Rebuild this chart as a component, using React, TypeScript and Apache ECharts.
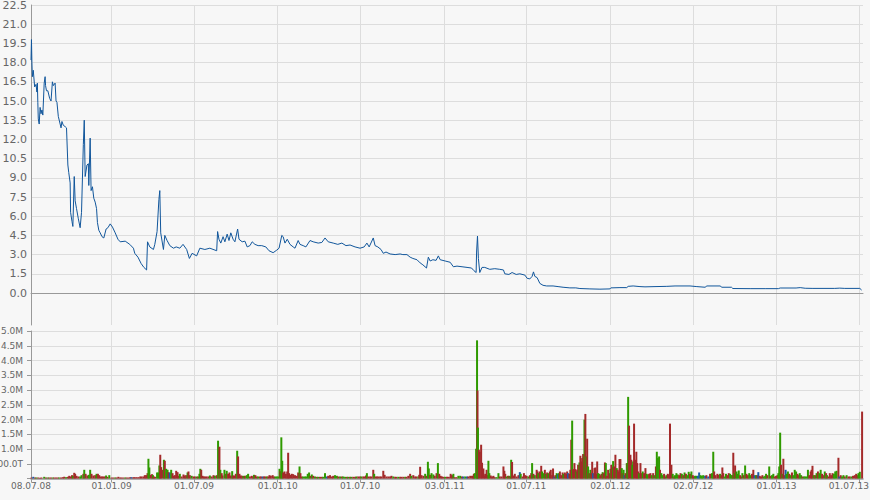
import React, { useEffect, useRef } from "react";
import * as echarts from "echarts";

// Day offsets are counted from the first trading day, 08.07.2008
const START_Y = 2008;
const START_M = 6; // July (0-based)
const START_D = 8;
const LAST_DAY = 1828;

const tickDates = [
  "2008-07-08", "2009-01-01", "2009-07-01", "2010-01-01", "2010-07-01", "2011-01-03",
  "2011-07-01", "2012-01-02", "2012-07-02", "2013-01-01", "2013-07-01",
];

const priceTicks = [0, 1.5, 3, 4.5, 6, 7.5, 9, 10.5, 12, 13.5, 15, 16.5, 18, 19.5, 21, 22.5];

// [day offset, closing price]
const pricePoints: [number, number][] = [
  [0, 18.2], [1, 19.8], [2, 18.0], [3, 16.9], [5, 17.4], [8, 16.1], [11, 16.3], [13, 15.7], [14, 16.4],
  [15, 14.9], [16, 13.6], [18, 13.2], [20, 14.5], [22, 14.0], [24, 14.3], [26, 13.9], [29, 16.4], [31, 16.9],
  [32, 16.2], [34, 15.8], [37, 15.8], [41, 15.2], [44, 15.0], [47, 16.5], [49, 16.2], [53, 16.4], [55, 15.0],
  [57, 14.9], [60, 13.8], [64, 13.2], [66, 12.9], [68, 13.4], [71, 13.1], [75, 13.0], [78, 12.9],
  [81, 10.0], [83, 9.4], [86, 8.6], [87, 6.3], [90, 5.6], [92, 5.2], [95, 9.1], [97, 7.2], [100, 6.6],
  [104, 5.8], [108, 5.1], [111, 6.3], [115, 11.6], [117, 13.5], [119, 9.1], [123, 10.0], [126, 10.1],
  [127, 8.4], [130, 12.1], [132, 8.0], [135, 8.3], [138, 7.4], [141, 7.1], [144, 6.6], [146, 5.5],
  [149, 4.9], [152, 4.7], [156, 4.4], [160, 4.3], [165, 5.0], [169, 5.1], [174, 5.4], [179, 5.15],
  [185, 4.7], [191, 4.2], [196, 4.0], [207, 4.05], [217, 3.8], [225, 3.5], [228, 3.1], [235, 2.8],
  [242, 2.3], [248, 2.0], [254, 1.8], [256, 4.0], [261, 3.6], [269, 3.4], [272, 3.8], [277, 4.8],
  [281, 7.3], [283, 8.0], [285, 4.7], [291, 3.4], [294, 4.5], [299, 4.1], [305, 3.7], [313, 3.5],
  [319, 3.6], [327, 3.5], [334, 3.8], [342, 3.4], [348, 2.7], [354, 3.1], [364, 2.9], [371, 3.5],
  [382, 3.4], [393, 3.5], [408, 3.3],
  [410, 4.8], [413, 4.2], [417, 3.9], [422, 4.4], [426, 4.0], [431, 4.6], [435, 4.1], [439, 4.7],
  [444, 4.2], [448, 4.0], [454, 5.0], [457, 4.2], [464, 4.0], [470, 4.05], [475, 3.6], [481, 3.7],
  [486, 4.0], [492, 3.8], [499, 3.7], [507, 3.7], [516, 3.6], [523, 3.3], [532, 3.15], [540, 3.35],
  [545, 3.5], [551, 4.5], [554, 4.4], [558, 3.9], [563, 4.2], [569, 3.8], [576, 3.6], [580, 3.5],
  [587, 4.1], [591, 3.8], [598, 3.7], [604, 3.6], [613, 4.1], [620, 4.0], [631, 3.9], [639, 3.95],
  [646, 4.3], [653, 4.0], [664, 3.9], [674, 3.8], [683, 3.9], [692, 3.7], [701, 3.75], [712, 3.6],
  [723, 3.5], [732, 3.6], [738, 3.9], [743, 3.6], [752, 4.3], [756, 3.7], [762, 3.6], [769, 3.4],
  [774, 3.1], [780, 3.2], [789, 3.05], [800, 3.0], [811, 3.05],
  [817, 3.0], [826, 3.0], [833, 2.8], [839, 2.7], [848, 2.6], [855, 2.35], [861, 2.2], [869, 1.95],
  [873, 2.8], [877, 2.5], [883, 2.6], [890, 2.55], [895, 2.9], [899, 2.6], [910, 2.5], [921, 2.4],
  [928, 2.05], [936, 2.1], [947, 2.05], [958, 2.0], [968, 1.95], [973, 1.75], [978, 1.6], [979, 3.2],
  [981, 4.45], [983, 2.7], [986, 1.6], [991, 2.0], [997, 2.0], [1008, 1.85], [1019, 1.9], [1030, 1.85],
  [1038, 1.8], [1041, 1.5], [1050, 1.45], [1057, 1.6], [1066, 1.45], [1074, 1.5], [1085, 1.4],
  [1090, 1.15], [1096, 1.1], [1101, 1.3], [1104, 1.65], [1107, 1.3], [1112, 1.2], [1118, 0.75],
  [1125, 0.6], [1133, 0.55], [1147, 0.55], [1158, 0.5], [1169, 0.45], [1184, 0.4], [1197, 0.4],
  [1206, 0.35], [1228, 0.32], [1250, 0.3],
  [1272, 0.32], [1274, 0.4], [1294, 0.42], [1309, 0.42], [1312, 0.52], [1323, 0.55], [1338, 0.5],
  [1349, 0.48], [1371, 0.5], [1397, 0.52], [1415, 0.55], [1448, 0.55], [1463, 0.5], [1481, 0.45],
  [1485, 0.55], [1514, 0.55], [1518, 0.45], [1539, 0.45], [1542, 0.35], [1580, 0.34], [1613, 0.34],
  [1642, 0.34], [1646, 0.39], [1681, 0.39], [1690, 0.42], [1701, 0.37], [1718, 0.36], [1766, 0.36],
  [1777, 0.38], [1788, 0.36], [1821, 0.36], [1825, 0.23],
];

// [day offset, volume in thousands, direction: 1 up, -1 down, 0 unchanged]
const volumes: [number, number, number][] = [
  [1,34,-1],[5,57,0],[9,34,-1],[12,34,1],[16,34,-1],[20,23,-1],[23,34,-1],[29,57,1],[33,34,-1],[37,34,1],[40,34,-1],[44,34,-1],[48,34,1],[51,34,-1],[55,34,-1],[59,34,-1],[62,34,1],[66,34,-1],[70,45,-1],[73,57,-1],[77,45,1],[81,57,-1],[84,91,-1],[87,68,-1],[90,113,-1],[92,91,1],[95,193,-1],[97,159,-1],[100,91,-1],[104,68,-1],[108,68,1],[111,113,1],[115,159,-1],[117,295,1],[120,159,-1],[124,102,-1],[127,125,1],[130,295,1],[133,159,-1],[137,102,-1],[141,113,-1],[144,159,1],[147,159,-1],[150,113,-1],[153,68,-1],[156,68,-1],[159,68,-1],[162,68,-1],[165,102,1],[168,57,-1],[172,113,1],[177,34,-1],[181,34,-1],[185,34,1],[188,34,-1],[192,57,-1],[196,34,-1],[199,34,-1],[203,34,-1],[207,34,1],[210,34,-1],[214,34,-1],[218,45,-1],[221,45,0],[225,45,-1],[228,45,-1],[232,45,-1],[236,45,-1],[240,68,-1],[243,68,-1],[247,68,-1],[250,113,-1],[253,113,-1],[256,181,-1],[258,669,1],[260,374,1],[263,125,-1],[266,147,-1],[268,113,1],[270,68,-1],[273,57,-1],[277,204,1],[280,204,1],[282,442,1],[284,805,-1],[286,386,-1],[289,295,-1],[292,635,1],[294,601,-1],[297,329,1],[300,295,1],[302,215,-1],[305,204,0],[308,295,1],[311,181,-1],[314,91,-1],[316,113,-1],[319,261,-1],[322,215,-1],[324,91,-1],[327,159,1],[331,68,-1],[335,136,-1],[338,102,-1],[341,113,-1],[344,204,1],[346,238,-1],[349,113,-1],[353,91,1],[357,68,-1],[360,68,-1],[364,68,1],[367,68,-1],[370,159,1],[372,329,1],[374,295,-1],[377,91,-1],[380,68,-1],[383,68,-1],[386,68,-1],[390,68,-1],[393,102,1],[397,68,-1],[401,113,-1],[404,91,1],[408,113,-1],[411,1281,1],[414,1077,-1],[416,295,1],[419,181,-1],[421,102,-1],[425,295,1],[428,159,-1],[430,261,1],[433,159,-1],[436,204,-1],[439,102,-1],[442,249,1],[444,102,-1],[447,102,-1],[450,159,-1],[453,941,1],[455,748,-1],[458,159,-1],[461,102,-1],[464,91,-1],[467,91,1],[470,91,-1],[474,113,1],[477,159,1],[481,68,-1],[485,91,-1],[488,68,-1],[490,125,1],[493,113,-1],[496,68,-1],[499,68,1],[503,68,-1],[506,68,-1],[509,68,0],[512,68,-1],[515,68,-1],[518,68,1],[521,68,-1],[524,113,-1],[527,91,-1],[531,113,-1],[534,68,-1],[537,68,1],[540,68,1],[543,68,1],[546,329,1],[548,249,-1],[550,1395,1],[552,601,1],[554,204,-1],[557,238,-1],[560,159,-1],[563,238,-1],[565,873,-1],[567,181,-1],[570,125,-1],[573,159,-1],[576,147,-1],[580,113,-1],[584,91,-1],[587,204,-1],[590,408,1],[592,181,-1],[595,68,-1],[598,68,1],[602,68,1],[605,68,1],[608,159,1],[611,204,1],[614,91,-1],[617,136,1],[620,91,-1],[624,68,1],[628,57,-1],[631,57,1],[635,57,-1],[639,57,-1],[642,57,1],[646,181,1],[650,68,0],[653,91,-1],[657,113,-1],[661,68,-1],[664,91,-1],[668,113,1],[672,91,1],[675,68,-1],[679,68,1],[683,68,-1],[686,68,1],[690,57,1],[694,57,-1],[697,57,1],[701,57,-1],[704,57,1],[708,57,-1],[712,57,-1],[715,68,1],[719,68,-1],[723,68,-1],[726,68,1],[730,68,-1],[733,68,-1],[736,102,-1],[738,181,1],[741,68,-1],[745,68,-1],[748,68,-1],[752,295,-1],[754,159,1],[757,68,-1],[760,68,-1],[763,68,-1],[767,68,-1],[770,68,-1],[774,261,-1],[777,125,-1],[781,68,-1],[785,68,-1],[789,68,-1],[792,91,-1],[796,68,1],[800,57,-1],[803,57,-1],[807,57,1],[811,57,-1],[814,57,-1],[818,57,-1],[822,57,1],[825,57,-1],[829,91,-1],[833,159,-1],[836,91,1],[840,113,-1],[844,68,-1],[847,68,-1],[851,68,1],[853,125,-1],[855,397,-1],[858,113,-1],[862,91,-1],[866,159,1],[869,91,-1],[872,567,1],[874,340,1],[877,125,-1],[880,181,1],[884,136,1],[887,91,-1],[891,181,-1],[894,522,1],[897,159,-1],[900,91,-1],[903,68,-1],[907,57,-1],[910,57,1],[914,57,-1],[918,57,-1],
  [922,159,-1],[925,113,-1],[928,159,1],[931,45,-1],[935,45,-1],[939,91,1],[943,91,1],[947,68,-1],[950,68,0],[954,68,1],[958,68,0],[961,68,-1],[965,91,-1],[969,91,-1],[972,91,-1],[973,159,-1],[975,181,1],[978,1009,1],[980,4683,1],[981,2982,-1],[982,1724,1],[984,975,-1],[986,907,-1],[989,1145,-1],[991,533,-1],[994,340,-1],[996,102,-1],[998,159,-1],[1001,295,-1],[1003,113,-1],[1005,601,1],[1007,181,1],[1010,102,-1],[1013,68,-1],[1016,91,-1],[1019,45,-1],[1023,45,1],[1027,181,1],[1030,68,-1],[1034,68,-1],[1038,408,-1],[1040,261,-1],[1042,159,-1],[1045,68,1],[1048,91,-1],[1051,91,1],[1053,68,-1],[1055,635,1],[1057,556,-1],[1060,102,-1],[1063,159,-1],[1067,68,-1],[1071,113,-1],[1074,215,0],[1076,159,1],[1080,68,-1],[1083,181,-1],[1086,113,-1],[1089,91,-1],[1093,68,1],[1096,113,-1],[1099,181,-1],[1101,522,1],[1104,159,-1],[1107,113,1],[1111,295,-1],[1113,238,-1],[1115,181,1],[1118,238,-1],[1121,431,-1],[1123,238,1],[1126,181,1],[1129,295,-1],[1131,159,1],[1134,204,-1],[1137,181,1],[1140,238,-1],[1142,295,-1],[1145,113,-1],[1147,340,-1],[1150,68,0],[1152,113,-1],[1155,181,1],[1158,159,0],[1160,181,1],[1162,238,-1],[1165,113,-1],[1168,204,-1],[1170,159,1],[1173,204,-1],[1176,159,-1],[1178,238,-1],[1180,181,0],[1183,159,-1],[1185,295,-1],[1187,1315,-1],[1189,1962,1],[1191,318,-1],[1194,522,-1],[1196,318,-1],[1198,238,1],[1200,295,-1],[1202,465,-1],[1205,544,1],[1207,771,-1],[1209,578,-1],[1211,692,-1],[1213,828,-1],[1216,1996,1],[1218,2189,-1],[1220,748,1],[1222,1349,-1],[1224,408,1],[1227,181,-1],[1229,295,1],[1231,181,-1],[1233,567,-1],[1235,181,0],[1238,352,-1],[1240,374,-1],[1242,159,-1],[1244,578,-1],[1246,181,1],[1249,159,1],[1251,113,-1],[1254,159,-1],[1256,215,1],[1258,181,-1],[1261,544,-1],[1263,522,1],[1265,91,-1],[1268,295,-1],[1270,181,-1],[1273,329,1],[1275,465,-1],[1277,386,-1],[1279,590,1],[1281,408,-1],[1284,805,-1],[1287,352,1],[1289,295,-1],[1291,238,-1],[1293,658,-1],[1295,658,-1],[1298,352,1],[1300,181,-1],[1302,295,1],[1304,113,0],[1306,181,-1],[1309,522,1],[1311,522,-1],[1312,2767,1],[1314,1792,-1],[1317,805,-1],[1319,635,-1],[1321,465,1],[1323,578,1],[1325,1860,-1],[1328,635,-1],[1330,907,-1],[1332,522,-1],[1334,238,-1],[1336,181,1],[1339,522,-1],[1341,181,-1],[1344,238,1],[1347,181,-1],[1350,352,-1],[1353,159,1],[1355,113,1],[1358,159,-1],[1361,181,-1],[1364,113,1],[1367,181,-1],[1370,113,1],[1373,408,-1],[1375,907,1],[1377,692,1],[1380,748,1],[1382,295,-1],[1385,181,1],[1388,113,1],[1391,159,-1],[1393,68,-1],[1396,113,1],[1399,159,-1],[1402,136,-1],[1404,1860,-1],[1407,465,-1],[1410,159,1],[1413,68,-1],[1415,113,1],[1418,181,1],[1421,136,1],[1424,113,-1],[1427,181,-1],[1430,159,1],[1433,113,-1],[1436,204,1],[1439,159,-1],[1442,113,1],[1445,227,1],[1448,159,-1],[1451,238,1],[1454,113,-1],[1456,68,-1],[1459,91,1],[1462,91,1],[1465,91,0],[1468,204,0],[1471,113,1],[1474,91,1],[1477,113,1],[1481,91,0],[1484,113,-1],[1488,68,0],[1492,159,-1],[1496,181,1],[1499,907,1],[1501,238,-1],[1504,113,-1],[1508,159,-1],[1511,125,-1],[1514,159,1],[1517,113,-1],[1519,374,-1],[1521,181,-1],[1524,68,1],[1527,159,1],[1530,113,-1],[1533,181,-1],[1536,159,1],[1539,113,1],[1541,113,1],[1543,873,-1],[1545,181,1],[1547,442,-1],[1550,238,1],[1552,159,1],[1555,272,1],[1558,113,-1],[1560,68,-1],[1563,181,1],[1566,113,-1],[1569,442,1],[1572,159,-1],[1575,113,-1],[1578,181,1],[1581,113,1],[1584,159,-1],[1587,295,-1],[1590,113,0],[1593,113,1],[1596,113,-1],[1598,215,0],[1601,91,-1],[1604,68,-1],[1607,113,-1],[1610,68,1],[1613,91,1],[1615,159,1],[1618,113,-1],[1622,408,1],[1625,91,-1],[1628,113,1],[1631,159,1],[1634,68,-1],[1637,91,-1],[1640,113,-1],[1642,181,1],[1644,408,1],[1646,1554,1],[1648,465,-1],[1651,159,1],[1653,669,-1],[1655,113,-1],[1658,295,0],[1660,159,1],[1663,238,1],[1666,159,-1],[1669,113,1],[1672,204,-1],[1675,113,1],[1678,295,1],[1681,238,1],[1684,159,-1],[1687,113,-1],[1689,181,1],[1692,113,1],[1695,68,-1],[1698,68,1],[1701,68,1],[1704,68,1],[1707,295,1],[1710,113,-1],[1713,238,-1],[1715,295,-1],[1717,431,-1],[1720,113,1],[1723,113,-1],[1726,181,1],[1729,238,-1],[1732,181,1],[1735,295,1],[1738,159,-1],[1741,113,-1],[1744,238,1],[1747,181,-1],[1749,113,1],[1752,68,-1],[1755,181,-1],[1758,113,-1],[1761,181,-1],[1764,159,1],[1767,238,1],[1770,261,1],[1774,703,-1],[1776,68,0],[1779,113,-1],[1782,68,1],[1785,113,1],[1788,68,-1],[1792,113,1],[1796,68,-1],[1799,68,-1],[1803,68,1],[1806,91,-1],[1810,113,-1],[1813,159,-1],[1816,113,-1],[1818,181,1],[1821,227,1],[1826,2268,-1],
];

const FONT = "DejaVu Sans";
const UP = "#2f9a00";
const DOWN = "#a32a2a";
const FLAT = "#1b5caa";

const dayToTime = (d: number) => new Date(START_Y, START_M, START_D + d).getTime();
const parseDate = (s: string) => {
  const [y, m, d] = s.split("-").map(Number);
  return new Date(y, m - 1, d).getTime();
};
const pad = (n: number) => (n < 10 ? "0" + n : "" + n);
const fmtDate = (v: number) => {
  const d = new Date(v);
  return pad(d.getDate()) + "." + pad(d.getMonth() + 1) + "." + String(d.getFullYear()).slice(2);
};
const fmtVol = (v: number) => {
  if (v === 0) return "";
  if (v >= 1000) return (v / 1000).toFixed(1) + "M";
  return v.toFixed(1) + "T";
};

export default function App() {
  const ref = useRef<HTMLDivElement>(null);

  useEffect(() => {
    if (!ref.current) return;
    const chart = echarts.init(ref.current, undefined, { renderer: "svg" });
    const tickTimes = tickDates.map(parseDate);
    const lastTick = tickTimes[tickTimes.length - 1];
    const tMin = dayToTime(0);
    const tMax = dayToTime(LAST_DAY);
    const priceData = pricePoints.map(([d, p]) => [dayToTime(d), p]);
    const volData = volumes.map(([d, v, dir]) => [dayToTime(d), v, dir]);
    const gridLine = { show: true, lineStyle: { color: "#dddddd", width: 1 } };

    chart.setOption({
      animation: false,
      backgroundColor: "#f7f7f7",
      textStyle: { fontFamily: FONT },
      grid: [
        { left: 31, right: 7, top: 5, height: 320, outerBoundsMode: "none", containLabel: false },
        { left: 31, right: 7, top: 331, height: 147.5, outerBoundsMode: "none", containLabel: false },
      ],
      xAxis: [
        {
          type: "value",
          gridIndex: 0,
          min: tMin,
          max: tMax,
          axisLine: { show: true, onZero: true, lineStyle: { color: "#999999", width: 1 } },
          axisTick: { show: false, customValues: tickTimes },
          axisLabel: { show: false, customValues: tickTimes },
          splitLine: gridLine,
        },
        {
          type: "value",
          gridIndex: 1,
          min: tMin,
          max: tMax,
          axisLine: { show: true, onZero: false, lineStyle: { color: "#999999", width: 1.5 } },
          axisTick: { show: true, customValues: tickTimes, length: 4, lineStyle: { color: "#999999" } },
          axisLabel: {
            customValues: tickTimes,
            formatter: (v: number) =>
              v === lastTick ? "{last|" + fmtDate(v) + "}" : fmtDate(v),
            color: "#666666",
            fontSize: 9,
            fontFamily: FONT,
            margin: 3,
            rich: {
              last: {
                padding: [0, 20, 0, 0],
                color: "#666666",
                fontSize: 9,
                fontFamily: FONT,
              },
            },
          },
          splitLine: gridLine,
        },
      ],
      yAxis: [
        {
          type: "value",
          gridIndex: 0,
          min: -2.5,
          max: 22.5,
          axisLine: { show: true, onZero: false, lineStyle: { color: "#999999" } },
          axisTick: { show: false, customValues: priceTicks },
          axisLabel: {
            customValues: priceTicks,
            formatter: (v: number) => v.toFixed(1),
            color: "#666666",
            fontSize: 11,
            fontFamily: FONT,
            margin: 4,
          },
          splitLine: gridLine,
        },
        {
          type: "value",
          gridIndex: 1,
          min: 0,
          max: 5000,
          interval: 500,
          axisLine: { show: true, onZero: false, lineStyle: { color: "#999999" } },
          axisTick: { show: true, length: 4, lineStyle: { color: "#999999" } },
          axisLabel: {
            formatter: (v: number) => fmtVol(v),
            color: "#666666",
            fontSize: 9,
            fontFamily: FONT,
            margin: 8,
          },
          splitLine: gridLine,
        },
      ],
      series: [
        {
          type: "line",
          xAxisIndex: 0,
          yAxisIndex: 0,
          data: priceData,
          symbol: "none",
          showSymbol: false,
          lineStyle: { color: "#11569b", width: 1 },
          z: 3,
        },
        {
          type: "bar",
          xAxisIndex: 1,
          yAxisIndex: 1,
          data: volData,
          barWidth: 2,
          itemStyle: {
            color: (p: any) => (p.data[2] > 0 ? UP : p.data[2] < 0 ? DOWN : FLAT),
          },
        },
      ],
    });
    return () => chart.dispose();
  }, []);

  return (
    <div
      ref={ref}
      style={{ position: "absolute", left: 0, top: 0, width: 870, height: 500 }}
    />
  );
}
